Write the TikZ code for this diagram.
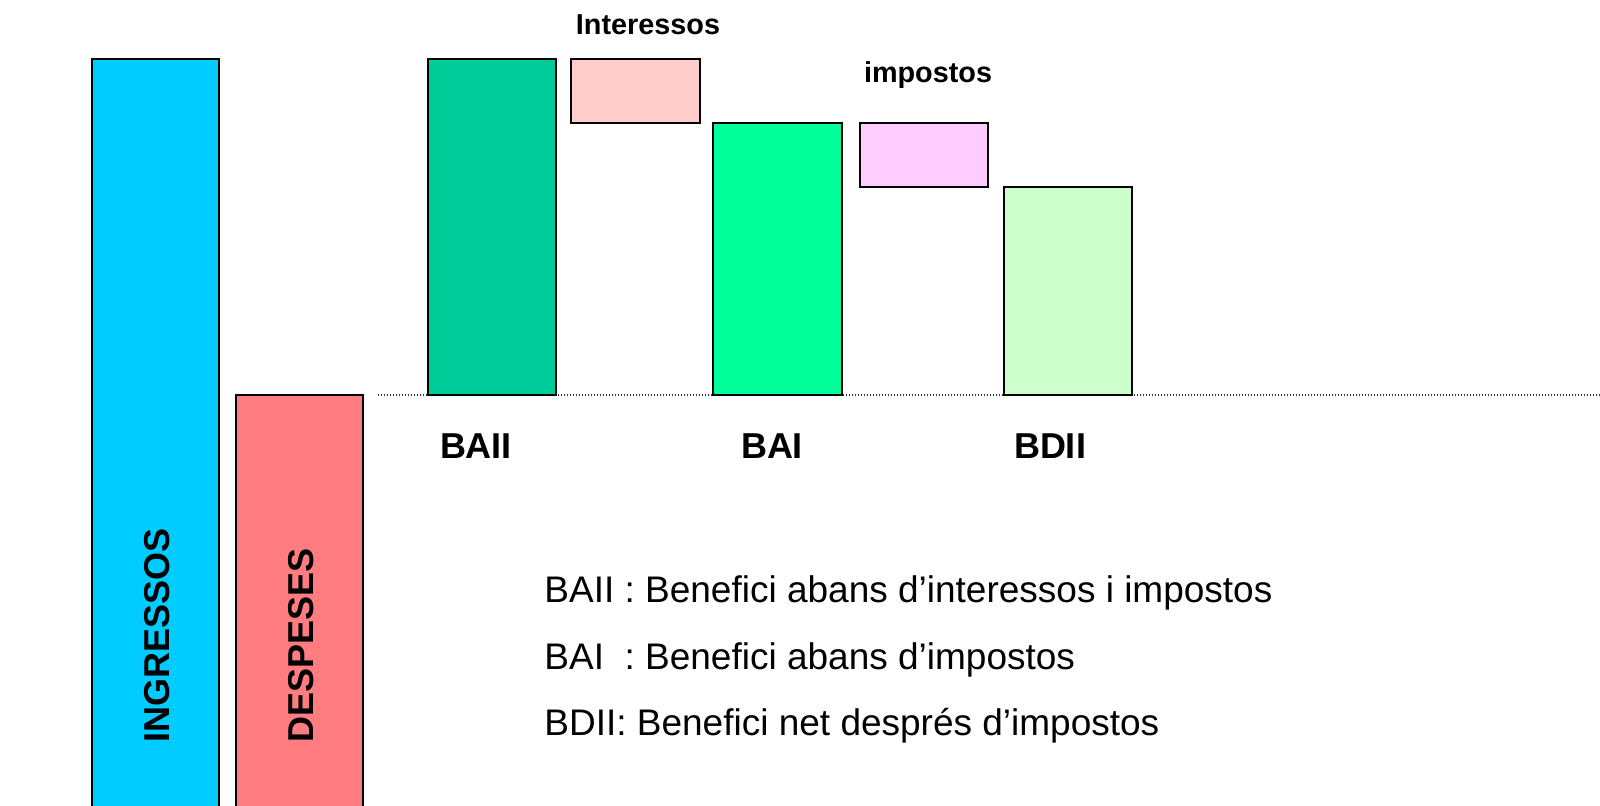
\documentclass[tikz,border=0pt]{standalone}
\usepackage{fontspec}
\setmainfont{Liberation Sans}
\definecolor{ingcol}{HTML}{00CCFF}
\definecolor{despcol}{HTML}{FF7C80}
\definecolor{baiicol}{HTML}{00CC99}
\definecolor{baicol}{HTML}{00FF99}
\definecolor{bdiicol}{HTML}{CCFFCC}
\definecolor{intcol}{HTML}{FFCCCC}
\definecolor{impcol}{HTML}{FFCCFF}
\tikzstyle{bar}=[draw=black,line width=1pt]
\tikzstyle{zeroline}=[draw=black!80,line width=0.6pt,dash pattern=on 0.6pt off 0.9pt]
\tikzstyle{vlabel}=[font=\fontsize{18}{20}\selectfont\bfseries,rotate=90,anchor=base west,inner sep=0pt]
\tikzstyle{blabel}=[font=\fontsize{18}{20}\selectfont\bfseries,anchor=base,inner sep=0pt]
\tikzstyle{slabel}=[font=\fontsize{14.4}{16}\selectfont\bfseries,anchor=base,inner sep=0pt]
\tikzstyle{legend}=[font=\fontsize{18.5}{22}\selectfont,anchor=base west,inner sep=0pt]

\begin{document}
\begin{tikzpicture}[x=0.5pt,y=-0.5pt]
      \useasboundingbox (0,0) rectangle (1600,806);
      \clip (0,0) rectangle (1600,806);
      % zero level
      \coordinate (z0) at (378,395);
      \coordinate (z1) at (1600,395);
      \draw[zeroline] (z0)--(z1);
      % bars
      \draw[bar, fill=ingcol] (92,59) rectangle (219,830);
      \draw[bar, fill=despcol] (236,395) rectangle (363,830);
      \draw[bar, fill=baiicol] (428,59) rectangle (556,395);
      \draw[bar, fill=intcol] (571,59) rectangle (700,123);
      \draw[bar, fill=baicol] (713,123) rectangle (842,395);
      \draw[bar, fill=impcol] (860,123) rectangle (988,187);
      \draw[bar, fill=bdiicol] (1004,187) rectangle (1132,395);
      % labels
      \node[vlabel] at (169,743) (ing) {INGRESSOS};
      \node[vlabel] at (313,743) (desp) {DESPESES};
      \node[slabel] at (648,35) (int) {Interessos};
      \node[slabel] at (928,83) (imp) {impostos};
      \node[blabel] at (476,459) (baii) {BAII};
      \node[blabel] at (772,459) (bai) {BAI};
      \node[blabel] at (1050,459) (bdii) {BDII};
      \node[legend] at (544,603) (leg1) {BAII : Benefici abans d’interessos i impostos};
      \node[legend] at (544,669) (leg2) {BAI\ \ : Benefici abans d’impostos};
      \node[legend] at (544,735) (leg3) {BDII: Benefici net després d’impostos};
\end{tikzpicture}
\end{document}
